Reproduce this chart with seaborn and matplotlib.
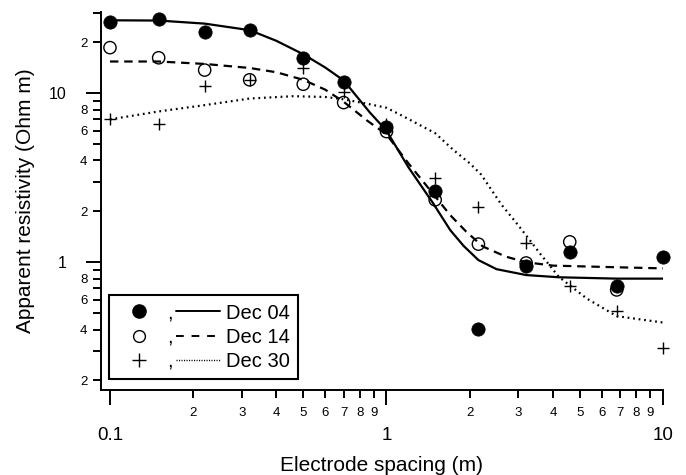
import numpy as np
import pandas as pd
import matplotlib
matplotlib.use("Agg")
import matplotlib.pyplot as plt
from matplotlib.lines import Line2D
from matplotlib.ticker import FixedLocator, FixedFormatter
import seaborn as sns

# Measured apparent resistivity (Ohm m) at each electrode spacing (m)
spacing = [0.1, 0.15, 0.22, 0.32, 0.5, 0.7, 1.0, 1.5, 2.15, 3.2, 4.6, 6.8, 10.0]
rho_dec04 = [26.5, 27.4, 22.9, 23.7, 16.2, 11.7, 6.3, 2.65, 0.405, 0.95, 1.155, 0.727, 1.08]
rho_dec14 = [18.6, 16.2, 13.7, 12.0, 11.3, 8.8, 5.93, 2.34, 1.28, 0.99, 1.32, 0.686, np.nan]
rho_dec30 = [7.02, 6.56, 11.0, 12.0, 14.1, 10.1, 6.6, 3.14, 2.13, 1.30, 0.724, 0.517, 0.31]

# Fitted model curves
fit04_x = [0.1, 0.15, 0.22, 0.32, 0.4, 0.5, 0.6, 0.7, 0.87, 1.0, 1.2, 1.47, 1.7, 1.9, 2.15, 2.5, 3.2, 4.2, 6.8, 10.0]
fit04_y = [27.0, 26.9, 25.8, 23.6, 20.4, 17.0, 14.2, 11.9, 7.7, 6.0, 3.65, 2.25, 1.55, 1.25, 1.03, 0.91, 0.84, 0.815, 0.80, 0.80]

fit14_x = [0.1, 0.15, 0.22, 0.32, 0.4, 0.5, 0.6, 0.7, 0.85, 1.0, 1.2, 1.5, 1.7, 1.94, 2.23, 2.7, 3.2, 4.0, 6.8, 10.0]
fit14_y = [15.4, 15.4, 14.9, 14.1, 13.3, 12.0, 10.5, 8.9, 6.9, 5.7, 3.85, 2.45, 1.9, 1.52, 1.24, 1.08, 1.0, 0.955, 0.934, 0.92]

fit30_x = [0.1, 0.15, 0.22, 0.32, 0.46, 0.6, 0.7, 0.87, 1.0, 1.15, 1.5, 1.75, 2.0, 2.2, 2.6, 3.0, 3.3, 3.6, 4.2, 5.3, 6.8, 8.2, 10.0]
fit30_y = [7.0, 7.8, 8.5, 9.3, 9.6, 9.5, 9.2, 8.6, 8.2, 7.3, 5.8, 4.6, 3.85, 3.3, 2.2, 1.65, 1.35, 1.12, 0.82, 0.61, 0.48, 0.46, 0.44]

survey_labels = ["Dec 04", "Dec 14", "Dec 30"]

# Axis ticks and their labels
x_major = [0.1, 1, 10]
x_major_labels = ["0.1", "1", "10"]
x_minor = [0.2, 0.3, 0.4, 0.5, 0.6, 0.7, 0.8, 0.9, 2, 3, 4, 5, 6, 7, 8, 9]
x_minor_labels = ["2", "3", "4", "5", "6", "7", "8", "9"] * 2
y_major = [1, 10]
y_major_labels = ["1", "10"]
y_minor = [0.2, 0.3, 0.4, 0.5, 0.6, 0.7, 0.8, 0.9, 2, 3, 4, 5, 6, 7, 8, 9, 20, 30]
y_minor_labels = ["2", "", "4", "", "6", "", "8", ""] * 2 + ["2", ""]

sns.set_style("ticks")
plt.rcParams["font.family"] = ["Liberation Sans", "DejaVu Sans"]
for key in ["text.color", "axes.labelcolor", "xtick.color", "ytick.color", "axes.edgecolor"]:
    plt.rcParams[key] = "black"

fig = plt.figure(figsize=(6.86, 4.75), dpi=100)
ax = fig.add_axes([101 / 686, 1 - 390 / 475, 562 / 686, 377.7 / 475])
ax.set_xscale("log")
ax.set_yscale("log")

# Measured points
sns.scatterplot(x=spacing, y=rho_dec14, ax=ax, marker="o", s=78, color="black",
                facecolor="none", edgecolor="black", linewidth=1.0, clip_on=False,
                legend=False, zorder=3)
sns.scatterplot(x=spacing, y=rho_dec04, ax=ax, marker="o", s=92, color="black",
                edgecolor="black", linewidth=0.5, clip_on=False, legend=False, zorder=4)
sns.scatterplot(x=spacing, y=rho_dec30, ax=ax, marker="+", s=75, color="black",
                linewidth=1.0, clip_on=False, legend=False, zorder=5)

# Model curves
sns.lineplot(x=fit04_x, y=fit04_y, ax=ax, color="black", linewidth=1.6,
             linestyle="-", estimator=None, sort=False, legend=False, zorder=6)
sns.lineplot(x=fit14_x, y=fit14_y, ax=ax, color="black", linewidth=1.6,
             linestyle=(0, (3.8, 2.6)), estimator=None, sort=False, legend=False, zorder=6)
sns.lineplot(x=fit30_x, y=fit30_y, ax=ax, color="black", linewidth=1.6,
             linestyle=(0, (0.8, 1.7)), estimator=None, sort=False, legend=False, zorder=6)

ax.set_xlim(0.0928, 10.0)
ax.set_ylim(0.1755, 30.1)

ax.xaxis.set_major_locator(FixedLocator(x_major))
ax.xaxis.set_major_formatter(FixedFormatter(x_major_labels))
ax.xaxis.set_minor_locator(FixedLocator(x_minor))
ax.xaxis.set_minor_formatter(FixedFormatter(x_minor_labels))
ax.yaxis.set_major_locator(FixedLocator(y_major))
ax.yaxis.set_major_formatter(FixedFormatter(y_major_labels))
ax.yaxis.set_minor_locator(FixedLocator(y_minor))
ax.yaxis.set_minor_formatter(FixedFormatter(y_minor_labels))

ax.tick_params(which="major", direction="out", length=10.8, width=1.4)
ax.tick_params(which="minor", direction="out", length=5.8, width=1.4)
ax.tick_params(axis="x", which="major", labelsize=13.5, pad=15.5)
ax.tick_params(axis="x", which="minor", labelsize=9.5, pad=6.5)
ax.tick_params(axis="y", which="major", labelsize=11.5, pad=14)
ax.tick_params(axis="y", which="minor", labelsize=9.5, pad=4.0)

for side in ["top", "right"]:
    ax.spines[side].set_visible(False)
for side in ["left", "bottom"]:
    ax.spines[side].set_linewidth(1.4)

ax.set_xlabel("Electrode spacing (m)", fontsize=15, labelpad=9)
ax.set_ylabel("Apparent resistivity (Ohm m)", fontsize=15, labelpad=10)

# Legend: marker symbol, comma, curve sample, survey date
marker_handles = [
    Line2D([], [], ls="", marker="o", ms=9.5, mfc="black", mec="black"),
    Line2D([], [], ls="", marker="o", ms=8.5, mfc="none", mec="black", mew=1.0),
    Line2D([], [], ls="", marker="+", ms=10, mec="black", mew=1.0),
]
line_handles = [
    Line2D([], [], color="black", lw=1.4, ls="-"),
    Line2D([], [], color="black", lw=1.4, ls=(0, (4.0, 4.0))),
    Line2D([], [], color="black", lw=1.0, ls=(0, (0.8, 1.0))),
]
leg = ax.legend(marker_handles + line_handles, [","] * 3 + survey_labels,
                ncol=2, loc="lower left", bbox_to_anchor=(0.0142, 0.03),
                borderaxespad=0, frameon=True, fancybox=False, edgecolor="black",
                framealpha=1, fontsize=14.5, handlelength=2.2, handletextpad=0.3,
                columnspacing=0.15, borderpad=0.4, labelspacing=0.25)
leg.get_frame().set_linewidth(1.5)

fig.savefig("out.png", dpi=100)
